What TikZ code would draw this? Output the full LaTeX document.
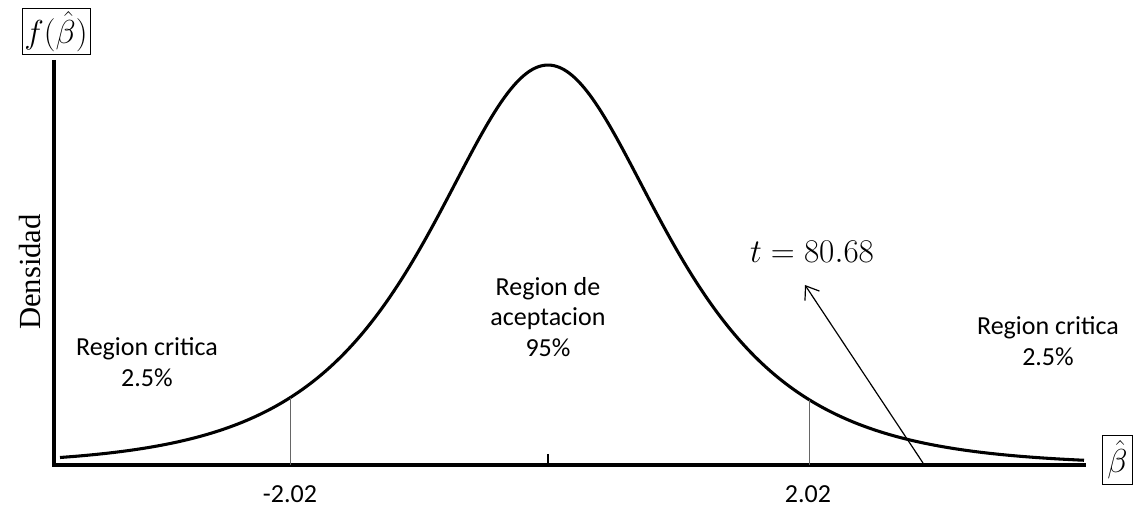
\documentclass[tikz,border=0pt]{standalone}
\usepackage{fontspec}
\setmainfont{Carlito}
\newfontfamily\seriffont{Liberation Serif}
\usetikzlibrary{arrows.meta}
\tikzset{
  axis/.style={line width=3pt},
  curve/.style={line width=2.3pt},
  guide/.style={line width=0.7pt, gray!80!black},
  lbl/.style={font=\fontsize{19.5}{23}\selectfont, align=center, inner sep=0pt},
  boxlbl/.style={draw, line width=0.7pt, inner sep=2pt},
  pointer/.style={line width=0.9pt, -{Straight Barb[length=9pt,width=13pt,line width=0.9pt]}}
}
\begin{document}
\begin{tikzpicture}[x=0.75pt,y=-0.75pt]
\useasboundingbox (0,0) rectangle (1140,509);
% axes
\coordinate (o) at (54,465);
\coordinate (ytop) at (54,60);
\coordinate (xend) at (1086,465);
\draw[axis] (ytop) -- (o) -- (xend);
% curve
\draw[curve] plot[domain=60:1084, samples=200, smooth] (\x,{465-400/cosh((\x-548)/104.5)});
% guide lines
\coordinate (gl) at (290,{465-400/cosh((290-548)/104.5)});
\coordinate (glb) at (290,465);
\coordinate (gr) at (809,{465-400/cosh((809-548)/104.5)});
\coordinate (grb) at (809,465);
\draw[guide] (gl) -- (glb);
\draw[guide] (gr) -- (grb);
\coordinate (tk) at (548,454);
\coordinate (tkb) at (548,465);
\draw[line width=0.8pt] (tk) -- (tkb);
% labels
\node[lbl] (rc1) at (147,362) {Region critica\\2.5\%};
\node[lbl] (ra) at (548,317) {Region de\\aceptacion\\95\%};
\node[lbl] (rc2) at (1048,341) {Region critica\\2.5\%};
\node[lbl] (xl) at (290,494) {-2.02};
\node[lbl] (xr) at (808,494) {2.02};
\node[font=\seriffont\fontsize{23}{26}\selectfont, rotate=90, inner sep=0pt] (dens) at (30,272) {Densidad};
\node[boxlbl, font=\fontsize{24}{28}\selectfont, minimum width=51pt, minimum height=35pt, inner sep=1pt] (fb) at (56,31.5) {$f(\hat{\beta})$};
\node[boxlbl, font=\fontsize{24}{28}\selectfont, minimum width=23pt, minimum height=37pt, inner sep=1pt] (bb) at (1117.5,460) {$\hat{\beta}$};
\node[font=\fontsize{23}{27}\selectfont, inner sep=0pt] (t) at (812,252) {$t = 80.68$};
% arrow
\coordinate (atail) at (923,463);
\coordinate (ahead) at (805,285);
\draw[pointer] (atail) -- (ahead);
\end{tikzpicture}
\end{document}
